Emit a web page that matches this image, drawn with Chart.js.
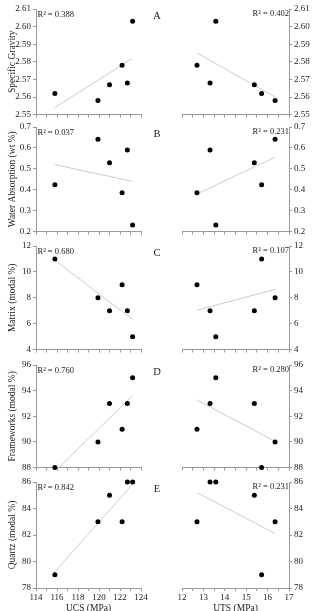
<!DOCTYPE html>
<html><head><meta charset="utf-8">
<script src="https://cdn.jsdelivr.net/npm/chart.js@4"></script>
<style>
html,body{margin:0;padding:0;background:#fff;overflow:hidden;width:336px;height:611px;position:relative;}
canvas{position:absolute;}
</style></head><body>
<script>
// ---- data ----
const ucs = [115.8, 119.9, 121.0, 122.2, 122.7, 123.2];      // UCS (MPa) per sample
const uts = [15.72, 16.35, 15.38, 12.70, 13.31, 13.58];      // UTS (MPa) per sample
const specificGravity = [2.562, 2.558, 2.567, 2.578, 2.568, 2.603];
const waterAbsorption = [0.424, 0.641, 0.529, 0.386, 0.590, 0.231];
const matrix = [11, 8, 7, 9, 7, 5];
const frameworks = [88, 90, 93, 91, 93, 95];
const quartz = [79, 83, 85, 83, 86, 86];

// trend-line end points
const ucsTrendX = [115.8, 123.2];
const utsTrendX = [12.70, 16.35];
const sgTrendUcs = [2.554, 2.582];
const sgTrendUts = [2.585, 2.560];
const waTrendUcs = [0.520, 0.440];
const waTrendUts = [0.380, 0.556];
const matrixTrendUcs = [10.9, 6.33];
const matrixTrendUts = [7.04, 8.65];
const fwTrendUcs = [87.69, 93.62];
const fwTrendUts = [93.26, 90.05];
const qzTrendUcs = [79.23, 85.84];
const qzTrendUts = [85.20, 82.11];

const r2Ucs = ['0.388', '0.037', '0.680', '0.760', '0.842'];
const r2Uts = ['0.402', '0.231', '0.107', '0.280', '0.231'];
const panelLetters = ['A', 'B', 'C', 'D', 'E'];
const yTitles = ['Specific Gravity', 'Water Absorption (wt %)', 'Matrix (modal %)', 'Frameworks (modal %)', 'Quartz (modal %)'];
const yMin = [2.55, 0.2, 4, 88, 78];
const yMax = [2.61, 0.7, 12, 96, 86];
const yStep = [0.01, 0.1, 2, 2, 2];
const yDecimals = [2, 1, 0, 0, 0];
const ucsTickLabels = [114, 116, 118, 120, 122, 124];
const utsTickLabels = [12, 13, 14, 15, 16, 17];

const properties = [specificGravity, waterAbsorption, matrix, frameworks, quartz];
const trendsUcs = [sgTrendUcs, waTrendUcs, matrixTrendUcs, fwTrendUcs, qzTrendUcs];
const trendsUts = [sgTrendUts, waTrendUts, matrixTrendUts, fwTrendUts, qzTrendUts];

// ---- layout ----
const FONT = 'Liberation Serif';
const TXT = '#222';
const AX = '#9a9a9a';
const rowTop = [9, 127, 246, 365, 482];
const rowBottom = [117, 234, 352, 470, 588];

const annot = {
  id: 'annot',
  afterDraw(chart, args, o) {
    const {ctx, chartArea: a} = chart;
    ctx.save();
    ctx.fillStyle = TXT;
    ctx.textBaseline = 'middle';
    ctx.font = `8.5px "${FONT}"`;
    if (o.side === 'left') {
      ctx.textAlign = 'left';
      ctx.fillText('R\u00B2 = ' + o.r2, a.left + 1.5, a.top + 5.5);
      ctx.font = `10.5px "${FONT}"`;
      ctx.textAlign = 'center';
      ctx.fillText(o.letter, a.right + 16, a.top + 7);
    } else {
      ctx.textAlign = 'right';
      ctx.fillText('R\u00B2 = ' + o.r2, a.right, a.top + 5);
    }
    ctx.restore();
  }
};

function makeChart(row, side) {
  const isLeft = side === 'left';
  const isBottom = row === 4;
  const T = rowTop[row], B = rowBottom[row];
  const xh = isBottom ? 26 : 5;
  const canvasTop = T - 8;
  const h = B + xh - canvasTop;
  const c = document.createElement('canvas');
  c.width = 168; c.height = h;
  c.style.left = (isLeft ? 0 : 168) + 'px';
  c.style.top = canvasTop + 'px';
  c.style.width = '168px'; c.style.height = h + 'px';
  document.body.appendChild(c);

  const xs = isLeft ? ucs : uts;
  const ys = properties[row];
  const tx = isLeft ? ucsTrendX : utsTrendX;
  const ty = isLeft ? trendsUcs[row] : trendsUts[row];
  const tickLabels = isLeft ? ucsTickLabels : utsTickLabels;

  new Chart(c, {
    type: 'scatter',
    data: {
      datasets: [
        {data: xs.map((x, i) => ({x, y: ys[i]})), pointRadius: 2.5, pointBackgroundColor: '#000',
         pointBorderWidth: 0, clip: false},
        {data: tx.map((x, i) => ({x, y: ty[i]})), showLine: true, borderColor: '#cccccc',
         borderWidth: 1, pointRadius: 0, clip: 0}
      ]
    },
    options: {
      responsive: false, animation: false, devicePixelRatio: 1, events: [],
      layout: {padding: isLeft ? {left: 0, right: 27, top: 8, bottom: 0}
                               : {left: 14, right: 17, top: 8, bottom: 0}},
      plugins: {legend: {display: false}, tooltip: {enabled: false},
        annot: {side, r2: isLeft ? r2Ucs[row] : r2Uts[row], letter: panelLetters[row]}},
      scales: {
        x: {
          type: 'linear', min: isLeft ? 114 : 12, max: isLeft ? 124 : 17,
          ticks: {stepSize: isLeft ? 1 : 0.5, autoSkip: false, maxRotation: 0, display: isBottom,
            padding: 1, color: TXT, font: {family: FONT, size: 9},
            callback: v => tickLabels.includes(v) ? String(v) : ''},
          grid: {drawOnChartArea: false, drawTicks: true, tickLength: 3, color: AX},
          border: {display: true, color: AX, width: 1},
          title: {display: isBottom, text: isLeft ? 'UCS (MPa)' : 'UTS (MPa)', color: TXT,
            font: {family: FONT, size: 9.5}, padding: {top: 0, bottom: 0}},
          afterFit: s => { s.height = xh; }
        },
        y: {
          type: 'linear', position: isLeft ? 'left' : 'right', min: yMin[row], max: yMax[row],
          ticks: {stepSize: yStep[row], color: TXT, padding: 2, font: {family: FONT, size: 9},
            callback: v => Number(v).toFixed(yDecimals[row])},
          grid: {drawOnChartArea: false, drawTicks: true, tickLength: 3, color: AX},
          border: {display: true, color: AX, width: 1},
          title: {display: isLeft, text: yTitles[row], color: TXT,
            font: {family: FONT, size: 9.5}, padding: {top: 7, bottom: 0}},
          afterFit: s => { s.width = isLeft ? 36 : 30; }
        }
      }
    },
    plugins: [annot]
  });
}

for (let r = 0; r < 5; r++) { makeChart(r, 'left'); makeChart(r, 'right'); }
</script>
</body></html>
